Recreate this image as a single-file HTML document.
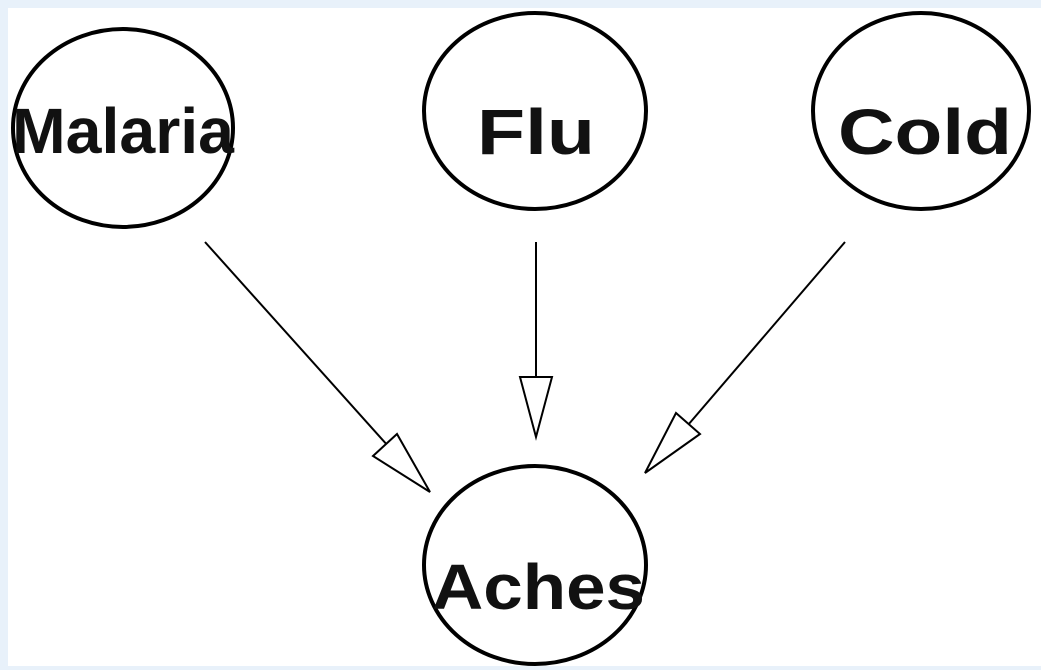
<!DOCTYPE html>
<html><head><style>
html,body{margin:0;padding:0;background:#e8f1fa;}
svg{display:block;}
</style></head><body>
<svg width="1041" height="670" xmlns="http://www.w3.org/2000/svg">
<rect x="0" y="0" width="1041" height="670" fill="#e8f1fa"/>
<rect x="8" y="8" width="1033" height="658" fill="#fff"/>
<g fill="none" stroke="#000" stroke-width="4">
<ellipse cx="123" cy="128" rx="110" ry="99"/>
<ellipse cx="535" cy="111" rx="111" ry="98"/>
<ellipse cx="921" cy="111" rx="108" ry="98"/>
<ellipse cx="535" cy="565" rx="111" ry="99"/>
</g>
<g stroke="#000" stroke-width="2" fill="#fff">
<line x1="205" y1="242" x2="389" y2="447"/>
<polygon points="430,492 373,456 397,434"/>
<line x1="536" y1="242" x2="536" y2="377"/>
<polygon points="536,437 520,377 552,377"/>
<line x1="845" y1="242" x2="688" y2="425"/>
<polygon points="645,473 676,413 700,434"/>
</g>
<g font-family="Liberation Sans, sans-serif" font-weight="bold" fill="#111" font-size="64">
<text x="12" y="153" textLength="222" lengthAdjust="spacingAndGlyphs">Malaria</text>
<text x="477" y="154" textLength="118" lengthAdjust="spacingAndGlyphs">Flu</text>
<text x="838" y="154" textLength="174" lengthAdjust="spacingAndGlyphs">Cold</text>
<text x="432" y="609" textLength="213" lengthAdjust="spacingAndGlyphs">Aches</text>
</g>
</svg>
</body></html>
